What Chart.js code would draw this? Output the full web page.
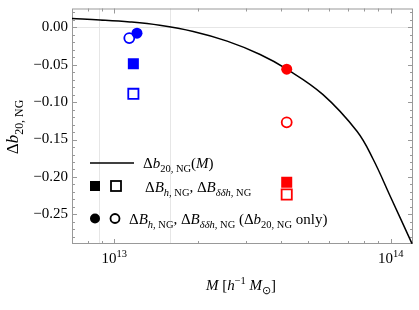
<!DOCTYPE html>
<html>
<head>
<meta charset="utf-8">
<script src="https://cdn.jsdelivr.net/npm/chart.js@4/dist/chart.umd.min.js"></script>
<style>
  body { margin: 0; background: #fff; }
</style>
</head>
<body>
<canvas id="c" width="419" height="310"></canvas>
<script>
// curve Δb20,NG(M)
const curveMass = [7.03e12, 8.88e12, 1.14e13, 1.46e13, 1.93e13, 2.56e13, 3.37e13, 4.21e13, 5.69e13, 7.55e13, 8.63e13, 9.94e13, 1.194e14];
const curveValue = [0.0115, 0.0098, 0.0071, 0.0026, -0.0057, -0.0186, -0.0364, -0.056, -0.090, -0.139, -0.176, -0.225, -0.289];

// two mass bins (blue, red)
const binColor = ["#0000ff", "#ff0000"];
const squareMass = [1.172e13, 4.205e13];
const filledCircleMass = [1.208e13, 4.205e13];
const openCircleMass = [1.133e13, 4.205e13];
const dBh = [-0.0487, -0.207];          // filled squares
const dBddh = [-0.089, -0.2234];        // open squares
const dBhB20 = [-0.0079, -0.056];       // filled circles
const dBddhB20 = [-0.0145, -0.127];     // open circles

// axes
const xMin = 7.03e12, xMax = 1.204e14;
const yMin = -0.2895, yMax = 0.025;
const yTicks = [0, -0.05, -0.1, -0.15, -0.2, -0.25];
const yMinorTicks = [0.02, 0.01, -0.01, -0.02, -0.03, -0.04, -0.06, -0.07, -0.08, -0.09, -0.11, -0.12, -0.13, -0.14, -0.16, -0.17, -0.18, -0.19, -0.21, -0.22, -0.23, -0.24, -0.26, -0.27, -0.28];
const xTicks = [1e13, 1e14];
const xTickExp = ["13", "14"];
const xMinorTicks = [8e12, 9e12, 2e13, 3e13, 4e13, 5e13, 6e13, 7e13, 8e13, 9e13];
const gridMass = [8.83e12, 1.6e13];

const serif = '"Liberation Serif", "Times New Roman", serif';

function pts(xs, ys) {
  return xs.map((x, i) => ({ x: x, y: ys[i] }));
}

// text with italic parts, sub and superscripts
function drawRich(ctx, x, y, parts, size, align) {
  const fontFor = k => {
    const it = k === "i" || k === "subi";
    const s = (k === "r" || k === "i") ? size : size * 0.7;
    return (it ? "italic " : "") + s + "px " + serif;
  };
  const off = k => k.startsWith("sub") ? size * 0.28 : (k === "sup" ? -size * 0.4 : 0);
  let w = 0;
  parts.forEach(([t, k]) => { ctx.font = fontFor(k); w += ctx.measureText(t).width; });
  let cx = align === "center" ? x - w / 2 : x;
  ctx.textAlign = "left";
  ctx.textBaseline = "alphabetic";
  parts.forEach(([t, k]) => {
    ctx.font = fontFor(k);
    ctx.fillText(t, cx, y + off(k));
    cx += ctx.measureText(t).width;
  });
}

const framePlugin = {
  id: "frame",
  beforeDatasetsDraw(chart) {
    const { ctx, chartArea: a, scales } = chart;
    ctx.save();
    ctx.strokeStyle = "#999";
    ctx.lineWidth = 1;
    ctx.strokeRect(a.left + 0.5, a.top + 0.5, a.right - a.left - 1, a.bottom - a.top - 1);
    ctx.beginPath();
    const tickY = (v, len) => {
      const p = Math.round(scales.y.getPixelForValue(v)) + 0.5;
      ctx.moveTo(a.left, p); ctx.lineTo(a.left + len, p);
      ctx.moveTo(a.right, p); ctx.lineTo(a.right - len, p);
    };
    const tickX = (v, len) => {
      const p = Math.round(scales.x.getPixelForValue(v)) + 0.5;
      ctx.moveTo(p, a.bottom); ctx.lineTo(p, a.bottom - len);
      ctx.moveTo(p, a.top); ctx.lineTo(p, a.top + len);
    };
    yTicks.forEach(v => tickY(v, 5));
    yMinorTicks.forEach(v => tickY(v, 3));
    xTicks.forEach(v => tickX(v, 5));
    xMinorTicks.forEach(v => tickX(v, 3));
    ctx.stroke();
    ctx.restore();
  },
  afterDraw(chart) {
    const { ctx, scales } = chart;
    ctx.save();
    ctx.fillStyle = "#000";
    // x tick labels
    xTicks.forEach((v, i) => {
      drawRich(ctx, scales.x.getPixelForValue(v), 263, [["10", "r"], [xTickExp[i], "sup"]], 15, "center");
    });
    // axis titles
    drawRich(ctx, 241, 290, [["M", "i"], [" [", "r"], ["h", "i"], ["\u22121", "sup"], [" ", "r"], ["M", "i"], ["\u2299", "sub"], ["]", "r"]], 15, "center");
    ctx.save();
    ctx.translate(18, 127);
    ctx.rotate(-Math.PI / 2);
    drawRich(ctx, 0, 0, [["\u0394", "r"], ["b", "i"], ["20, NG", "sub"]], 17, "center");
    ctx.restore();

    // legend
    ctx.strokeStyle = "#000";
    ctx.lineWidth = 1.5;
    ctx.beginPath();
    ctx.moveTo(90, 163); ctx.lineTo(134, 163);
    ctx.stroke();
    drawRich(ctx, 143, 168, [["\u0394", "r"], ["b", "i"], ["20, NG", "sub"], ["(", "r"], ["M", "i"], [")", "r"]], 15);

    ctx.fillRect(90, 181, 10, 10);
    ctx.lineWidth = 1.8;
    ctx.strokeRect(111, 181, 10, 10);
    const bParts = [["\u0394", "r"], ["B", "i"], ["h", "subi"], [", NG", "sub"], [", ", "r"], ["\u0394", "r"], ["B", "i"], ["\u03b4\u03b4h", "subi"], [", NG", "sub"]];
    drawRich(ctx, 145, 192, bParts, 15);

    ctx.beginPath();
    ctx.arc(95, 218.5, 5, 0, Math.PI * 2);
    ctx.fill();
    ctx.beginPath();
    ctx.arc(115, 218.5, 4.5, 0, Math.PI * 2);
    ctx.stroke();
    drawRich(ctx, 129, 224, bParts.concat([[" (", "r"], ["\u0394", "r"], ["b", "i"], ["20, NG", "sub"], [" only)", "r"]]), 15);
    ctx.restore();
  }
};

const markerSets = [];
binColor.forEach((col, i) => {
  markerSets.push({ data: [{ x: filledCircleMass[i], y: dBhB20[i] }], pointStyle: "circle", pointRadius: 5.5, backgroundColor: col, borderColor: col, borderWidth: 0 });
  markerSets.push({ data: [{ x: openCircleMass[i], y: dBddhB20[i] }], pointStyle: "circle", pointRadius: 5, backgroundColor: "#fff", borderColor: col, borderWidth: 1.8 });
  markerSets.push({ data: [{ x: squareMass[i], y: dBh[i] }], pointStyle: "rect", pointRadius: 7.8, backgroundColor: col, borderColor: col, borderWidth: 0 });
  markerSets.push({ data: [{ x: squareMass[i], y: dBddh[i] }], pointStyle: "rect", pointRadius: 7.2, backgroundColor: "#fff", borderColor: col, borderWidth: 1.8 });
});

const curveSet = {
  data: pts(curveMass, curveValue),
  showLine: true,
  borderColor: "#000",
  borderWidth: 1.5,
  pointRadius: 0,
  tension: 0.4
};

new Chart(document.getElementById("c"), {
  type: "scatter",
  data: { datasets: markerSets.concat([curveSet]) },
  options: {
    responsive: false,
    devicePixelRatio: 1,
    animation: false,
    layout: { autoPadding: false, padding: { top: 5, right: 6, left: 0, bottom: 0 } },
    plugins: { legend: { display: false }, tooltip: { enabled: false } },
    scales: {
      x: {
        type: "logarithmic",
        min: xMin,
        max: xMax,
        afterBuildTicks: s => { s.ticks = gridMass.map(v => ({ value: v })); },
        ticks: { display: false },
        grid: { color: "#e6e6e6", drawTicks: false },
        border: { display: false },
        afterFit: s => { s.height = 66; }
      },
      y: {
        min: yMin,
        max: yMax,
        afterBuildTicks: s => { s.ticks = yTicks.map(v => ({ value: v })); },
        ticks: {
          color: "#000",
          padding: 4,
          font: { family: serif, size: 15, lineHeight: 0.6 },
          callback: v => v === 0 ? "0.00" : "\u2212" + Math.abs(v).toFixed(2)
        },
        grid: { color: c => c.tick && c.tick.value === 0 ? "#e6e6e6" : "rgba(0,0,0,0)", drawTicks: false },
        border: { display: false },
        afterFit: s => { s.width = 72; }
      }
    }
  },
  plugins: [framePlugin]
});
</script>
</body>
</html>
